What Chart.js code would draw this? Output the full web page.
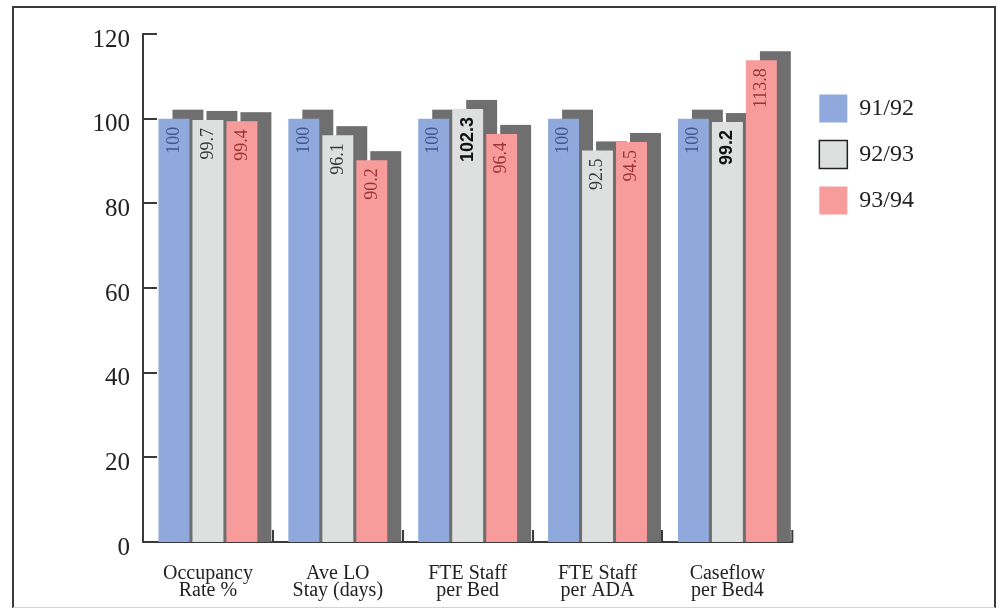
<!DOCTYPE html>
<html>
<head>
<meta charset="utf-8">
<script src="https://cdn.jsdelivr.net/npm/chart.js@4.4.1/dist/chart.umd.min.js"></script>
<style>
  html, body { margin: 0; padding: 0; background: #fff; }
  #wrap { position: relative; width: 998px; height: 610px; }
  #frame {
    position: absolute; left: 12px; top: 6px; width: 984px; height: 602px;
    border: 2px solid #3a3a3a; border-bottom: 1px solid #d4d4d4; box-sizing: border-box;
  }
  canvas { position: absolute; left: 0; top: 0; }
</style>
</head>
<body>
<div id="wrap">
  <div id="frame"></div>
  <canvas id="chart" width="998" height="610"></canvas>
</div>
<script>
// indices: 91/92 = 100 for every measure
const categories = [
  ["Occupancy", "Rate %"],
  ["Ave LO", "Stay (days)"],
  ["FTE Staff", "per Bed"],
  ["FTE Staff", "per ADA"],
  ["Caseflow", "per Bed4"]
];
const seriesNames = ["91/92", "92/93", "93/94"];
const values9192 = [100, 100, 100, 100, 100];
const values9293 = [99.7, 96.1, 102.3, 92.5, 99.2];
const values9394 = [99.4, 90.2, 96.4, 94.5, 113.8];
const yTicks = [0, 20, 40, 60, 80, 100, 120];

const barColors = ["#8fa9dc", "#dde0df", "#f89b9b"];
const labelColors = ["#3e5590", "#3a3a3a", "#9b3535"];
const shadowColor = "#6f6f6f";
const axisColor = "#3a3a3a";
// value labels printed bold (dataset index -> bar indices)
const boldLabels = { 1: [2, 4] };

// ----------------------------
// DROP SHADOW BEHIND EACH BAR
// ----------------------------
const barShadow = {
  id: "barShadow",
  beforeDatasetsDraw(chart) {
    const ctx = chart.ctx;
    ctx.save();
    ctx.fillStyle = shadowColor;
    chart.data.datasets.forEach((ds, i) => {
      chart.getDatasetMeta(i).data.forEach(bar => {
        const { x, y, base, width } = bar.getProps(["x", "y", "base", "width"], true);
        ctx.fillRect(x - width / 2 + 14, y - 9, width, base - y + 9);
      });
    });
    ctx.restore();
  }
};

// ----------------------------
// VERTICAL VALUE LABELS
// ----------------------------
const barLabels = {
  id: "barLabels",
  afterDatasetsDraw(chart) {
    const ctx = chart.ctx;
    chart.data.datasets.forEach((ds, i) => {
      chart.getDatasetMeta(i).data.forEach((bar, j) => {
        const bold = (boldLabels[i] || []).includes(j);
        ctx.save();
        ctx.translate(bar.x, bar.y + 8);
        ctx.rotate(-Math.PI / 2);
        ctx.textAlign = "right";
        ctx.textBaseline = "middle";
        ctx.fillStyle = bold ? "#111" : labelColors[i];
        ctx.font = bold ? "bold 18px 'Liberation Sans'" : "18px 'Liberation Serif'";
        ctx.fillText(String(ds.data[j]), 0, 0);
        ctx.restore();
      });
    });
  }
};

// ----------------------------
// INWARD TICK MARKS ON BOTH AXES
// ----------------------------
const innerTicks = {
  id: "innerTicks",
  afterDraw(chart) {
    const { ctx, chartArea, scales: { x, y } } = chart;
    ctx.save();
    ctx.strokeStyle = axisColor;
    ctx.lineWidth = 2;
    ctx.beginPath();
    y.ticks.forEach(t => {
      if (t.value === 0) return;
      const py = Math.round(y.getPixelForValue(t.value));
      ctx.moveTo(chartArea.left, py);
      ctx.lineTo(chartArea.left + 14, py);
    });
    for (let i = 1; i <= categories.length; i++) {
      const px = i < categories.length
        ? Math.round((x.getPixelForValue(i - 1) + x.getPixelForValue(i)) / 2)
        : chartArea.right;
      ctx.moveTo(px, chartArea.bottom);
      ctx.lineTo(px, chartArea.bottom - 12);
    }
    ctx.stroke();
    ctx.restore();
  }
};

// nudge the legend a little away from the plot
const legendShift = {
  id: "legendShift",
  afterLayout(chart) {
    chart.legend.left += 9;
    chart.legend.right += 9;
  }
};

const ctx = document.getElementById("chart").getContext("2d");

new Chart(ctx, {
  type: "bar",
  data: {
    labels: categories,
    datasets: [values9192, values9293, values9394].map((vals, i) => ({
      label: seriesNames[i],
      data: vals,
      backgroundColor: barColors[i],
      borderWidth: 0,
      barPercentage: 0.91,
      categoryPercentage: 0.785
    }))
  },
  options: {
    responsive: false,
    animation: false,
    layout: { padding: { left: 0, top: 34, right: 83, bottom: 8 } },
    scales: {
      x: {
        grid: { display: false, drawTicks: false },
        border: { display: true, color: axisColor, width: 2 },
        ticks: {
          padding: 23,
          color: "#222",
          font: { family: "Liberation Serif", size: 20, lineHeight: 0.85 },
          maxRotation: 0
        },
        afterFit(scale) { scale.height = 60; }
      },
      y: {
        min: 0,
        max: 120,
        afterBuildTicks(scale) { scale.ticks = yTicks.map(v => ({ value: v })); },
        grid: { display: false, drawTicks: false },
        border: { display: true, color: axisColor, width: 2 },
        ticks: {
          padding: 13,
          labelOffset: 6,
          color: "#222",
          font: { family: "Liberation Serif", size: 25 }
        },
        afterFit(scale) { scale.width = 143; }
      }
    },
    plugins: {
      tooltip: { enabled: false },
      legend: {
        position: "right",
        align: "start",
        title: { display: true, text: "", padding: 14 },
        labels: {
          boxWidth: 28,
          boxHeight: 28,
          padding: 18,
          color: "#222",
          font: { family: "Liberation Serif", size: 24 },
          generateLabels(chart) {
            const items = Chart.defaults.plugins.legend.labels.generateLabels(chart);
            items.forEach((it, i) => {
              it.lineWidth = i === 1 ? 1.5 : 0;
              it.strokeStyle = "#222";
            });
            return items;
          }
        }
      }
    }
  },
  plugins: [barShadow, barLabels, innerTicks, legendShift]
});
</script>
</body>
</html>
